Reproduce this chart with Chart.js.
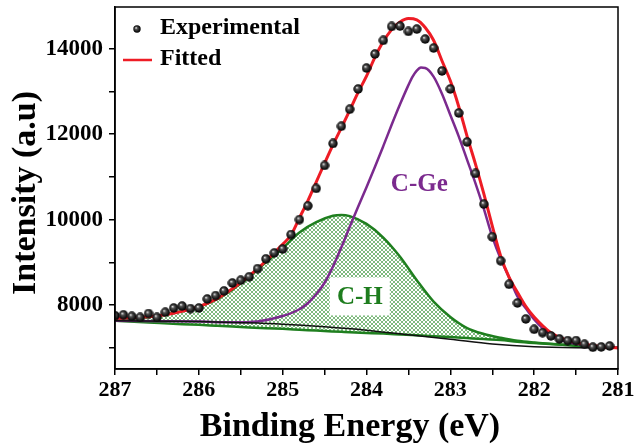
<!DOCTYPE html>
<html>
<head>
<meta charset="utf-8">
<script src="https://cdn.jsdelivr.net/npm/chart.js@4.4.0/dist/chart.umd.min.js"></script>
<style>
  html, body { margin: 0; padding: 0; background: #fff; }
  #wrap { width: 634px; height: 445px; }
</style>
</head>
<body>
<div id="wrap"><canvas id="xps" width="634" height="445"></canvas></div>
<script>
// measured points (binding energy in eV, intensity in a.u.)
const expEnergy = [287.0, 286.9, 286.8, 286.7, 286.6, 286.5, 286.4, 286.3, 286.2, 286.1,
  286.0, 285.9, 285.8, 285.7, 285.6, 285.5, 285.4, 285.3, 285.2, 285.1,
  285.0, 284.9, 284.8, 284.7, 284.6, 284.5, 284.4, 284.3, 284.2, 284.1,
  284.0, 283.9, 283.8, 283.7, 283.6, 283.5, 283.4, 283.3, 283.2, 283.1,
  283.0, 282.9, 282.8, 282.7, 282.6, 282.5, 282.4, 282.3, 282.2, 282.1,
  282.0, 281.9, 281.8, 281.7, 281.6, 281.5, 281.4, 281.3, 281.2, 281.1];
const expIntensity = [7750, 7770, 7735, 7710, 7800, 7710, 7830, 7930, 7975, 7915,
  7930, 8140, 8220, 8330, 8515, 8580, 8660, 8850, 9080, 9220,
  9310, 9650, 10000, 10323, 10730, 11268, 11783, 12187, 12585, 13060,
  13551, 13879, 14199, 14526, 14533, 14409, 14463, 14229, 14019, 13481,
  13060, 12498, 11820, 11080, 10363, 9598, 9036, 8484, 8047, 7672,
  7431, 7352, 7275, 7205, 7165, 7165, 7080, 7010, 7018, 7040];

// fitted envelope
const fitEnergy = [287.0, 286.7, 286.4, 286.2, 286.0, 285.8, 285.6, 285.4, 285.2, 285.0,
  284.9, 284.8, 284.7, 284.6, 284.5, 284.4, 284.3, 284.2, 284.1, 284.0,
  283.9, 283.8, 283.7, 283.6, 283.5, 283.4, 283.3, 283.2, 283.1, 283.0,
  282.9, 282.8, 282.7, 282.6, 282.5, 282.4, 282.3, 282.2, 282.1, 282.0,
  281.8, 281.6, 281.4, 281.2, 281.0];
const fitIntensity = [7690, 7710, 7770, 7850, 7960, 8130, 8380, 8680, 9030, 9420,
  9640, 10040, 10440, 10880, 11320, 11750, 12150, 12560, 12980, 13360,
  13800, 14170, 14450, 14630, 14710, 14680, 14500, 14200, 13720, 13250,
  12650, 11950, 11300, 10600, 9850, 9150, 8650, 8300, 7970, 7720,
  7350, 7170, 7080, 7025, 6990];

// C-Ge component
const geEnergy = [287.0, 286.0, 285.6, 285.3, 285.0, 284.8, 284.7, 284.6, 284.5, 284.4,
  284.3, 284.2, 284.1, 284.0, 283.9, 283.8, 283.7, 283.6, 283.5, 283.45,
  283.4, 283.35, 283.3, 283.2, 283.1, 283.0, 282.9, 282.8, 282.7, 282.6,
  282.5, 282.4, 282.3, 282.2, 282.1, 282.0, 281.8, 281.6, 281.4, 281.2, 281.0];
const geIntensity = [7630, 7610, 7595, 7615, 7740, 7900, 8040, 8250, 8520, 8900,
  9350, 9830, 10300, 10760, 11230, 11720, 12220, 12700, 13150, 13350,
  13490, 13560, 13550, 13350, 12950, 12450, 11950, 11400, 10850, 10250,
  9600, 9080, 8650, 8200, 7920, 7660, 7290, 7130, 7060, 7010, 6995];

// C-H component and its lower edge
const chEnergy = [287.0, 286.6, 286.2, 286.0, 285.8, 285.6, 285.4, 285.2, 285.0, 284.8,
  284.6, 284.4, 284.3, 284.2, 284.0, 283.8, 283.6, 283.4, 283.2, 283.0,
  282.8, 282.6, 282.4, 282.2, 282.0, 281.6, 281.3, 281.0];
const chIntensity = [7660, 7720, 7860, 7960, 8120, 8360, 8660, 9000, 9330, 9700,
  9940, 10090, 10110, 10080, 9900, 9580, 9130, 8580, 8080, 7720,
  7460, 7320, 7230, 7160, 7120, 7060, 7020, 7000];
const chBase = [7630, 7590, 7550, 7535, 7515, 7495, 7475, 7455, 7440, 7420,
  7400, 7380, 7370, 7360, 7345, 7330, 7310, 7290, 7270, 7250,
  7225, 7200, 7180, 7140, 7110, 7060, 7020, 7000];

// background
const bgEnergy = [287.0, 286.0, 285.5, 285.0, 284.5, 284.0, 283.5, 283.0, 282.5, 282.0, 281.5, 281.0];
const bgIntensity = [7630, 7610, 7585, 7550, 7490, 7410, 7300, 7195, 7085, 7020, 6995, 6990];

// axis ticks (all get a mark, only the labelled ones get text)
const xTickValues = [281, 281.5, 282, 282.5, 283, 283.5, 284, 284.5, 285, 285.5, 286, 286.5, 287];
const xLabels = [287, 286, 285, 284, 283, 282, 281];
const yTickValues = [7000, 8000, 9000, 10000, 11000, 12000, 13000, 14000];
const yLabels = [8000, 10000, 12000, 14000];

const pts = (xs, ys) => xs.map((x, i) => ({ x: x, y: ys[i] }));
const serif = '"Liberation Serif", "Times New Roman", serif';

// shaded ball used for the data points
function ball(size) {
  const c = document.createElement("canvas");
  c.width = size; c.height = size;
  const g = c.getContext("2d");
  const r = size / 2;
  const grad = g.createRadialGradient(r * 0.75, r * 0.7, 0.2, r, r, r);
  grad.addColorStop(0, "#e8e8e8");
  grad.addColorStop(0.3, "#505050");
  grad.addColorStop(0.75, "#111111");
  grad.addColorStop(1, "#000000");
  g.fillStyle = grad;
  g.beginPath(); g.arc(r, r, r - 0.3, 0, Math.PI * 2); g.fill();
  return c;
}

// green cross hatch
function hatch() {
  const c = document.createElement("canvas");
  c.width = 4; c.height = 4;
  const g = c.getContext("2d");
  g.fillStyle = "#ffffff";
  g.fillRect(0, 0, 4, 4);
  g.fillStyle = "rgba(40,140,40,0.6)";
  for (let i = 0; i < 4; i++) {
    g.fillRect(i, i, 1, 1);
    g.fillRect(3 - i, i, 1, 1);
  }
  return g.createPattern(c, "repeat");
}

const decor = {
  id: "decor",
  afterDraw(chart) {
    const { ctx, chartArea: a, scales: { x, y } } = chart;
    ctx.save();
    ctx.strokeStyle = "#000";
    ctx.lineWidth = 1.5;
    ctx.strokeRect(a.left, a.top, a.right - a.left, a.bottom - a.top);

    // legend
    ctx.drawImage(ball(8), a.left + 18, a.top + 18);
    ctx.strokeStyle = "#ee1c25";
    ctx.lineWidth = 2.5;
    ctx.beginPath();
    ctx.moveTo(a.left + 8, a.top + 53);
    ctx.lineTo(a.left + 37, a.top + 53);
    ctx.stroke();
    ctx.fillStyle = "#000";
    ctx.font = "bold 24px " + serif;
    ctx.textAlign = "left";
    ctx.textBaseline = "alphabetic";
    ctx.fillText("Experimental", a.left + 45, a.top + 27);
    ctx.fillText("Fitted", a.left + 45, a.top + 58);

    // component labels
    ctx.font = "bold 25px " + serif;
    ctx.textAlign = "center";
    ctx.textBaseline = "middle";
    ctx.fillStyle = "#7b2a8e";
    ctx.fillText("C-Ge", x.getPixelForValue(283.37), y.getPixelForValue(10830));
    const hx = x.getPixelForValue(284.08), hy = y.getPixelForValue(8200);
    ctx.fillStyle = "#fff";
    ctx.fillRect(hx - 30, hy - 19, 60, 38);
    ctx.fillStyle = "#1e7d1e";
    ctx.fillText("C-H", hx, hy + 1);

    // axis titles
    ctx.fillStyle = "#000";
    ctx.font = "bold 34px " + serif;
    ctx.textBaseline = "alphabetic";
    ctx.fillText("Binding Energy (eV)", 350, 436);
    ctx.translate(35, 193);
    ctx.rotate(-Math.PI / 2);
    ctx.fillText("Intensity (a.u)", 0, 0);
    ctx.restore();
  }
};

const lineSet = (label, xs, ys, color, width, order) => ({
  label: label,
  data: pts(xs, ys),
  borderColor: color,
  borderWidth: width,
  pointRadius: 0,
  cubicInterpolationMode: "monotone",
  order: order
});

const chUpper = lineSet("C-H", chEnergy, chIntensity, "#1f7f1f", 2.5, 4);
chUpper.fill = "+1";
chUpper.backgroundColor = hatch();

new Chart(document.getElementById("xps"), {
  type: "line",
  data: {
    datasets: [
      {
        label: "Experimental",
        data: pts(expEnergy, expIntensity),
        showLine: false,
        pointStyle: ball(10),
        pointRadius: 5,
        order: 0
      },
      lineSet("Fitted", fitEnergy, fitIntensity, "#ee1c25", 3, 1),
      lineSet("Background", bgEnergy, bgIntensity, "#111111", 1.5, 2),
      lineSet("C-Ge", geEnergy, geIntensity, "#7b2a8e", 2.5, 3),
      chUpper,
      lineSet("C-H base", chEnergy, chBase, "#1f7f1f", 2.5, 5)
    ]
  },
  options: {
    responsive: false,
    animation: false,
    layout: { padding: { top: 7, right: 16, left: 0, bottom: 0 } },
    plugins: {
      legend: { display: false },
      tooltip: { enabled: false },
      filler: { drawTime: "beforeDatasetsDraw" }
    },
    scales: {
      x: {
        type: "linear",
        reverse: true,
        min: 281,
        max: 287,
        afterBuildTicks: (s) => { s.ticks = xTickValues.map((v) => ({ value: v })); },
        afterFit: (s) => { s.height = 76; s.paddingLeft = 0; s.paddingRight = 0; },
        border: { color: "#000", width: 1.5 },
        grid: { drawOnChartArea: false, tickLength: 6, color: "#000", lineWidth: 1.5 },
        ticks: {
          autoSkip: false,
          maxRotation: 0,
          padding: 2,
          color: "#000",
          font: { family: serif, weight: "bold", size: 22 },
          callback: (v) => (xLabels.includes(v) ? String(v) : "")
        }
      },
      y: {
        min: 6500,
        max: 14980,
        afterBuildTicks: (s) => { s.ticks = yTickValues.map((v) => ({ value: v })); },
        afterFit: (s) => { s.width = 115; s.paddingTop = 0; s.paddingBottom = 0; },
        border: { color: "#000", width: 1.5 },
        grid: { drawOnChartArea: false, tickLength: 6, color: "#000", lineWidth: 1.5 },
        ticks: {
          autoSkip: false,
          padding: 6,
          color: "#000",
          font: { family: serif, weight: "bold", size: 23 },
          callback: (v) => (yLabels.includes(v) ? String(v) : "")
        }
      }
    }
  },
  plugins: [decor]
});
</script>
</body>
</html>
